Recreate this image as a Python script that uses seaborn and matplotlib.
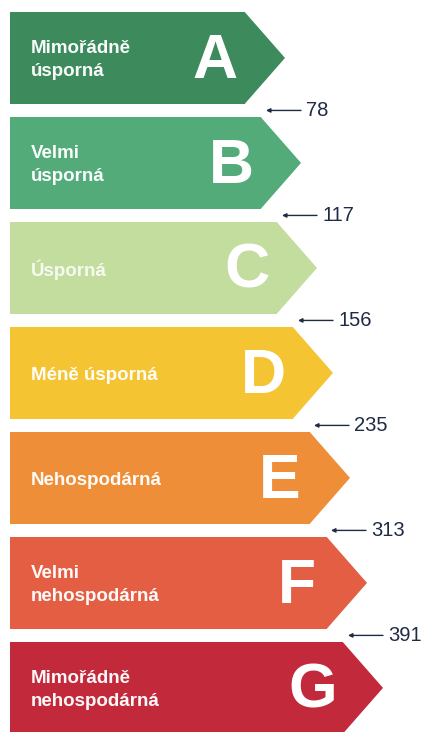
import matplotlib
matplotlib.use("Agg")
import matplotlib.pyplot as plt
from matplotlib.patches import Polygon
import seaborn as sns
import pandas as pd

letters = ["A", "B", "C", "D", "E", "F", "G"]
descriptions = ["Mimořádně\núsporná", "Velmi\núsporná", "Úsporná", "Méně úsporná",
                "Nehospodárná", "Velmi\nnehospodárná", "Mimořádně\nnehospodárná"]
lengths = [235, 251, 267, 283, 300, 317, 333]
thresholds = ["78", "117", "156", "235", "313", "391"]
colors = ["#3d8b5c", "#52ab78", "#c3dd9e", "#f4c433", "#ee8e38", "#e35e42", "#c22a3b"]

df = pd.DataFrame({"letter": letters, "length": lengths})

sns.set_theme(style="white")
fig = plt.figure(figsize=(4.22, 7.32), dpi=100)
ax = fig.add_axes([0, 0, 1, 1])
sns.barplot(data=df, y="letter", x="length", hue="letter", palette=colors,
            orient="h", width=0.88, legend=False, ax=ax, saturation=1)

ax.set_xlim(-10, 412)
ax.set_ylim(6.42, -0.552)
ax.axis("off")

TIP = 40
for i, p in enumerate(ax.patches[:len(letters)]):
    x0, y0 = p.get_x(), p.get_y()
    w, h = p.get_width(), p.get_height()
    p.set_edgecolor("none")
    yc = y0 + h / 2
    tri = Polygon([(x0 + w - 0.5, y0), (x0 + w + TIP, yc), (x0 + w - 0.5, y0 + h)],
                  closed=True, facecolor=colors[i], edgecolor="none")
    ax.add_patch(tri)
    ax.text(21, yc + 0.02, descriptions[i], color="white", fontsize=13.5,
            fontweight="bold", family="Liberation Sans", va="center", ha="left",
            linespacing=1.45, alpha=0.97 if i != 2 else 0.85)
    ax.text(x0 + w - 30, yc + 0.03, letters[i], color="white", fontsize=45,
            fontweight="bold", family="Liberation Sans", va="center", ha="center")

for i, t in enumerate(thresholds):
    yy = i + 0.5
    head = lengths[i] + 21
    ax.annotate("", xy=(head, yy), xytext=(head + 35, yy),
                arrowprops=dict(arrowstyle="-|>", color="#1f2a44", lw=1.0,
                                mutation_scale=6, shrinkA=0, shrinkB=0))
    ax.text(head + 40, yy, t, color="#1f2a44", fontsize=14.5, va="center", ha="left",
            family="Liberation Sans")

fig.savefig("out.png", dpi=100, facecolor="white")
